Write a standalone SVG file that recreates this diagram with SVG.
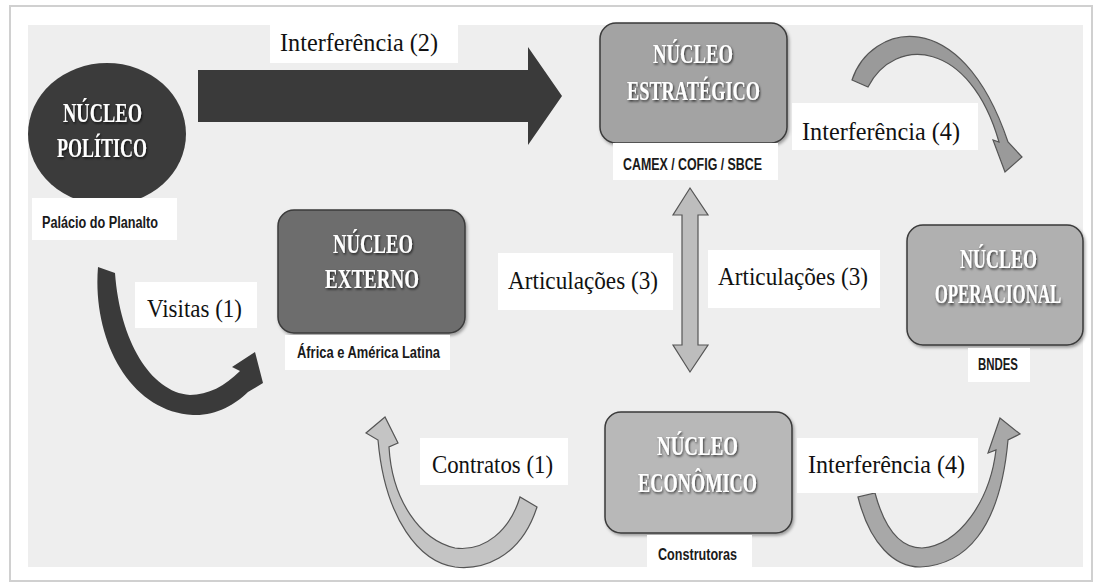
<svg xmlns="http://www.w3.org/2000/svg" width="1094" height="583" viewBox="0 0 1094 583">
<defs>
<filter id="ts" x="-20%" y="-40%" width="140%" height="180%"><feDropShadow dx="1" dy="1.5" stdDeviation="1" flood-color="#000" flood-opacity="0.7"/></filter>
<filter id="bs" x="-10%" y="-10%" width="125%" height="130%"><feDropShadow dx="1.5" dy="2" stdDeviation="1.5" flood-color="#000" flood-opacity="0.35"/></filter>
</defs>
<style>
.lbl{fill:#fff}
.t{font-family:"Liberation Serif",serif;font-size:26px;fill:#111}
.n{font-family:"Liberation Serif",serif;font-size:27px;font-weight:bold;fill:#fff}
.s{font-family:"Liberation Sans",sans-serif;font-size:16px;font-weight:bold;fill:#1a1a1a}
.box{stroke:#3a3a3a;stroke-width:1.5}
.dark{fill:#3a3a3a}
.light{stroke:#555;stroke-width:1.2}
</style>
<rect x="10" y="6" width="1082" height="575" fill="#fff" stroke="#d0d0d0" stroke-width="2"/>
<rect x="28" y="25" width="1055" height="542" fill="#eeeeee"/>

<g id="connectors">
<path class="dark" d="M198 70 L528 70 L528 47 L562 96 L528 145 L528 122 L198 122 Z"/>
<path class="dark" d="M98 267 C92 340 130 412 193 415 C215 416 235 405 248 392 L263 383 L255 352 L232 367 L240 371 C225 386 208 395 190 395 C150 392 120 340 115 273 Z"/>
<path fill="#bdbdbd" class="light" d="M690 188 L708 215 L698 215 L698 345 L708 345 L690 372 L673 345 L682 345 L682 215 L673 215 Z"/>
<path fill="#9a9a9a" class="light" d="M852 80 C870 25 960 0 1008 142 L1022 157 L1005 172 L993 140 L999 142 C970 40 895 35 868 87 Z"/>
<path fill="#c4c4c4" class="light" d="M537 507 C520 560 480 570 455 567 C420 562 385 520 378 440 L366 433 L385 417 L398 443 L389 447 C392 500 420 540 455 548 C485 552 510 530 520 497 Z"/>
<path fill="#a8a8a8" class="light" d="M858 497 C870 545 895 567 920 567 C965 565 1000 530 1008 440 L1020 434 L1000 418 L988 453 L996 450 C990 500 960 545 922 548 C900 548 885 530 875 493 Z"/>
</g>

<g id="label-interf2"><rect class="lbl" x="270" y="25" width="188" height="38"/><text class="t" x="280" y="51" textLength="158" lengthAdjust="spacingAndGlyphs">Interferência (2)</text></g>
<g id="label-interf4-top"><rect class="lbl" x="792" y="103" width="186" height="47"/><text class="t" x="802" y="140" textLength="158" lengthAdjust="spacingAndGlyphs">Interferência (4)</text></g>
<g id="label-artic-left"><rect class="lbl" x="498" y="253" width="175" height="57"/><text class="t" x="508" y="289" textLength="150" lengthAdjust="spacingAndGlyphs">Articulações (3)</text></g>
<g id="label-artic-right"><rect class="lbl" x="708" y="250" width="172" height="58"/><text class="t" x="718" y="285" textLength="150" lengthAdjust="spacingAndGlyphs">Articulações (3)</text></g>
<g id="label-visitas"><rect class="lbl" x="135" y="282" width="122" height="46"/><text class="t" x="147" y="317" textLength="95" lengthAdjust="spacingAndGlyphs">Visitas (1)</text></g>
<g id="label-contratos"><rect class="lbl" x="420" y="438" width="148" height="47"/><text class="t" x="432" y="473" textLength="121" lengthAdjust="spacingAndGlyphs">Contratos (1)</text></g>
<g id="label-interf4-bottom"><rect class="lbl" x="797" y="438" width="181" height="55"/><text class="t" x="808" y="473" textLength="157" lengthAdjust="spacingAndGlyphs">Interferência (4)</text></g>

<g id="node-politico">
<ellipse cx="107" cy="134" rx="79" ry="71" fill="#3b3b3b"/>
<text class="n" x="63" y="122" textLength="79" lengthAdjust="spacingAndGlyphs" filter="url(#ts)">NÚCLEO</text>
<text class="n" x="57" y="157" textLength="90" lengthAdjust="spacingAndGlyphs" filter="url(#ts)">POLÍTICO</text>
<rect class="lbl" x="32" y="198" width="145" height="42"/>
<text class="s" x="42" y="228" textLength="116" lengthAdjust="spacingAndGlyphs">Palácio do Planalto</text>
</g>

<g id="node-estrategico">
<rect class="box" x="600" y="23" width="187" height="120" rx="16" fill="#a3a3a3" filter="url(#bs)"/>
<text class="n" x="653" y="63" textLength="80" lengthAdjust="spacingAndGlyphs" filter="url(#ts)">NÚCLEO</text>
<text class="n" x="627" y="100" textLength="133" lengthAdjust="spacingAndGlyphs" filter="url(#ts)">ESTRATÉGICO</text>
<rect class="lbl" x="613" y="143" width="165" height="37"/>
<text class="s" x="623" y="170" textLength="139" lengthAdjust="spacingAndGlyphs">CAMEX / COFIG / SBCE</text>
</g>

<g id="node-externo">
<rect class="box" x="278" y="210" width="187" height="123" rx="16" fill="#6d6d6d" filter="url(#bs)"/>
<text class="n" x="333" y="253" textLength="80" lengthAdjust="spacingAndGlyphs" filter="url(#ts)">NÚCLEO</text>
<text class="n" x="325" y="288" textLength="94" lengthAdjust="spacingAndGlyphs" filter="url(#ts)">EXTERNO</text>
<rect class="lbl" x="285" y="335" width="165" height="35"/>
<text class="s" x="297" y="358" textLength="143" lengthAdjust="spacingAndGlyphs">África e América Latina</text>
</g>

<g id="node-operacional">
<rect class="box" x="907" y="225" width="176" height="120" rx="16" fill="#b0b0b0" filter="url(#bs)"/>
<text class="n" x="960" y="268" textLength="77" lengthAdjust="spacingAndGlyphs" filter="url(#ts)">NÚCLEO</text>
<text class="n" transform="translate(998 303) scale(0.89 1.4)" x="0" y="0" text-anchor="middle" style="font-size:19px" filter="url(#ts)">OPERACIONAL</text>
<rect class="lbl" x="968" y="348" width="62" height="34"/>
<text class="s" x="978" y="370" textLength="40" lengthAdjust="spacingAndGlyphs">BNDES</text>
</g>

<g id="node-economico">
<rect class="box" x="605" y="412" width="187" height="121" rx="16" fill="#b8b8b8" filter="url(#bs)"/>
<text class="n" x="657" y="455" textLength="81" lengthAdjust="spacingAndGlyphs" filter="url(#ts)">NÚCLEO</text>
<text class="n" x="638" y="492" textLength="119" lengthAdjust="spacingAndGlyphs" filter="url(#ts)">ECONÔMICO</text>
<rect class="lbl" x="647" y="535" width="105" height="32"/>
<text class="s" x="658" y="560" textLength="79" lengthAdjust="spacingAndGlyphs">Construtoras</text>
</g>
</svg>
